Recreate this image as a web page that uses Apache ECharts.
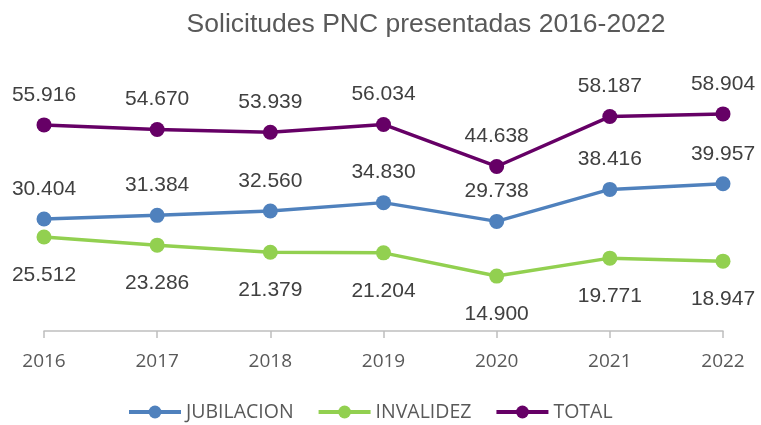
<!DOCTYPE html>
<html>
<head>
<meta charset="utf-8">
<script src="https://cdn.jsdelivr.net/npm/echarts@6/dist/echarts.min.js"></script>
<style>html,body{margin:0;padding:0;background:#fff;}#c{width:761px;height:425px;}</style>
</head>
<body>
<div id="c"></div>
<script>
const categories = ['2016','2017','2018','2019','2020','2021','2022'];
const jubilacion = [30404, 31384, 32560, 34830, 29738, 38416, 39957];
const invalidez = [25512, 23286, 21379, 21204, 14900, 19771, 18947];
const total = [55916, 54670, 53939, 56034, 44638, 58187, 58904];
const seriesNames = ['JUBILACION', 'INVALIDEZ', 'TOTAL'];
const colors = ['#4f81bd', '#92d050', '#660066'];

const fmt = v => String(v).replace(/\B(?=(\d{3})+(?!\d))/g, '.');

function mk(name, data, color, pos, dist) {
  return {
    name: name, type: 'line', data: data,
    symbol: 'circle', symbolSize: 15,
    lineStyle: { color: color, width: 3.5 },
    itemStyle: { color: color },
    label: {
      show: true, position: pos, distance: dist,
      fontFamily: 'Liberation Sans, Arial, sans-serif', fontSize: 21, color: '#404040',
      formatter: p => fmt(p.value)
    },
    emphasis: { disabled: true }
  };
}

const chart = echarts.init(document.getElementById('c'));
chart.setOption({
  animation: false,
  title: {
    text: 'Solicitudes PNC presentadas 2016-2022',
    left: 421, top: 6, textAlign: 'center',
    textStyle: { fontFamily: 'Liberation Sans, Arial, sans-serif', fontSize: 26.5, fontWeight: 'normal', color: '#595959' }
  },
  legend: {
    bottom: -2, left: 122,
    itemWidth: 52, itemHeight: 16, itemGap: 23,
    lineStyle: { width: 4 },
    textStyle: { fontFamily: 'Open Sans, sans-serif', fontSize: 19.5, color: '#595959' },
    data: seriesNames
  },
  grid: { left: 44, right: 38, top: 73, bottom: 94 },
  xAxis: {
    type: 'category', data: categories, boundaryGap: false,
    axisLine: { lineStyle: { color: '#bfbfbf', width: 1.5 } },
    axisTick: { show: true, length: 7, lineStyle: { color: '#bfbfbf', width: 1.5 } },
    axisLabel: { fontFamily: 'Open Sans, sans-serif', fontSize: 19, color: '#595959', margin: 21 }
  },
  yAxis: {
    type: 'value', min: 0, max: 70000, show: false, splitLine: { show: false }
  },
  series: [
    mk(seriesNames[0], jubilacion, colors[0], 'top', 12),
    mk(seriesNames[1], invalidez, colors[1], 'bottom', 20),
    mk(seriesNames[2], total, colors[2], 'top', 12)
  ]
});
</script>
</body>
</html>
